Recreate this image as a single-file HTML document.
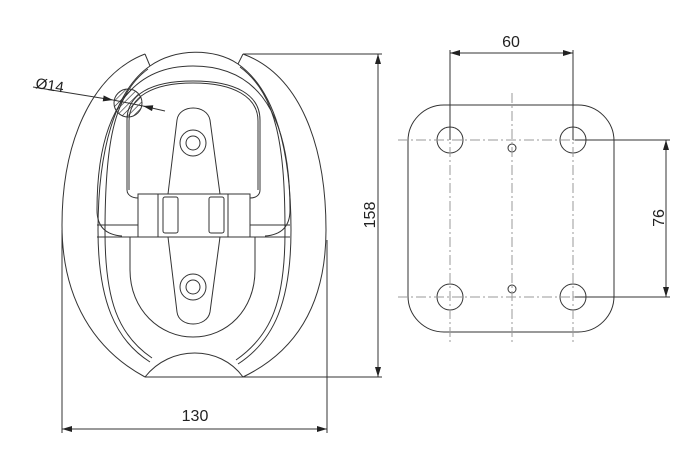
<!DOCTYPE html>
<html><head><meta charset="utf-8"><style>
html,body{margin:0;padding:0;background:#fff;}
svg{display:block;}
text{font-family:"Liberation Sans",sans-serif;fill:#222;}
</style></head><body>
<svg width="700" height="460" viewBox="0 0 700 460" xmlns="http://www.w3.org/2000/svg">
<defs>
<marker id="a" viewBox="0 0 10 6" refX="10" refY="3" markerWidth="10" markerHeight="6" orient="auto-start-reverse" markerUnits="userSpaceOnUse"><path d="M0,0 L10,3 L0,6 z" fill="#222"/></marker>
<pattern id="h" width="4" height="4" patternUnits="userSpaceOnUse" patternTransform="rotate(45)"><line x1="0" y1="0" x2="0" y2="4" stroke="#222" stroke-width="1.2"/></pattern>
</defs>
<g fill="none" stroke="#333" stroke-width="1">
<path d="M145,54 C90,75 62,145 62,225 C62,300 95,350 145,377"/>
<path d="M243,54 C300,75 326,145 326,230 C326,305 295,352 243,377"/>
<path d="M145,54 L150,66"/><path d="M243,54 L238,64"/>
<path d="M150,66 C175,48 215,48 238,64"/>
<path d="M150,66 C115,90 98,150 98,230 C98,300 115,340 150,362"/>
<path d="M238,64 C275,90 291,150 291,230 C291,300 275,340 238,364"/>
<path d="M148,69 C112,95 105,150 105,232 C105,300 118,335 152,358"/>
<path d="M240,67 C278,95 285,150 285,232 C285,300 272,335 236,360"/>
<path d="M145,377 L382,377"/>
<path d="M145,377 C170,345 220,345 243,377"/>
<path d="M97,210 C97,100 140,66 193,66 C248,66 290,100 290,210 C290,228 280,235 265,236"/>
<path d="M97,210 C97,228 107,235 122,236"/>
<path d="M127,190 L127,120 C127,95 150,81 193,81 C236,81 260,95 260,120 L260,190 C260,195 256,198 250,198"/>
<path d="M129,190 L129,121 C129,97 152,83 193,83 C234,83 258,97 258,121 L258,190"/>
<path d="M127,190 C127,195 132,198 138,198"/>
<path d="M97,237 L290,237"/>
<path d="M97,225 L138,225"/><path d="M250,225 L290,225"/>
<rect x="138" y="194" width="112" height="43"/>
<line x1="158" y1="194" x2="158" y2="237"/><line x1="228" y1="194" x2="228" y2="237"/>
<rect x="163" y="197" width="15" height="36" rx="2"/><rect x="209" y="197" width="15" height="36" rx="2"/>
<path d="M168,194 L177,120 C179,104 207,104 210,120 L220,194"/>
<path d="M168,237 L177,312 C179,328 207,328 210,312 L220,237"/>
<circle cx="193" cy="143" r="13"/><circle cx="193" cy="143" r="7"/>
<circle cx="193" cy="287" r="13"/><circle cx="193" cy="287" r="7"/>
<path d="M130,237 L130,270 C130,310 160,337 193,337 C227,337 255,310 255,270 L255,237"/>
<circle cx="128" cy="103" r="14" fill="url(#h)"/>
<line x1="62" y1="230" x2="62" y2="433"/><line x1="327" y1="240" x2="327" y2="433"/>
<line x1="62" y1="429" x2="327" y2="429" marker-start="url(#a)" marker-end="url(#a)"/>
<line x1="243" y1="54" x2="382" y2="54"/>
<line x1="378" y1="54" x2="378" y2="377" marker-start="url(#a)" marker-end="url(#a)"/>
<line x1="33" y1="87" x2="113" y2="100" marker-end="url(#a)"/>
<line x1="143" y1="106" x2="165" y2="111" marker-start="url(#a)"/>
<line x1="113" y1="100" x2="143" y2="106"/>
<rect x="408" y="105" width="206" height="227" rx="36"/>
<circle cx="450" cy="140" r="13"/><circle cx="573" cy="140" r="13"/>
<circle cx="450" cy="297" r="13"/><circle cx="573" cy="297" r="13"/>
<circle cx="512" cy="148" r="4"/><circle cx="512" cy="289" r="4"/>
<g stroke="#999" stroke-dasharray="10,3,2,3">
<line x1="450" y1="93" x2="450" y2="343"/><line x1="512" y1="93" x2="512" y2="343"/><line x1="573" y1="93" x2="573" y2="343"/>
<line x1="398" y1="140" x2="625" y2="140"/><line x1="398" y1="297" x2="625" y2="297"/>
</g>
<line x1="450" y1="50" x2="450" y2="140"/><line x1="573" y1="50" x2="573" y2="140"/>
<line x1="450" y1="53" x2="573" y2="53" marker-start="url(#a)" marker-end="url(#a)"/>
<line x1="575" y1="140" x2="670" y2="140"/><line x1="575" y1="297" x2="670" y2="297"/>
<line x1="666" y1="140" x2="666" y2="297" marker-start="url(#a)" marker-end="url(#a)"/>
</g>
<text x="35" y="88" font-size="15" transform="rotate(9 35 88)">Ø14</text>
<text x="195" y="421" font-size="16" text-anchor="middle">130</text>
<text x="511" y="47" font-size="16" text-anchor="middle">60</text>
<text font-size="16" text-anchor="middle" transform="translate(375 215) rotate(-90)">158</text>
<text font-size="16" text-anchor="middle" transform="translate(664 218) rotate(-90)">76</text>
</svg>
</body></html>
